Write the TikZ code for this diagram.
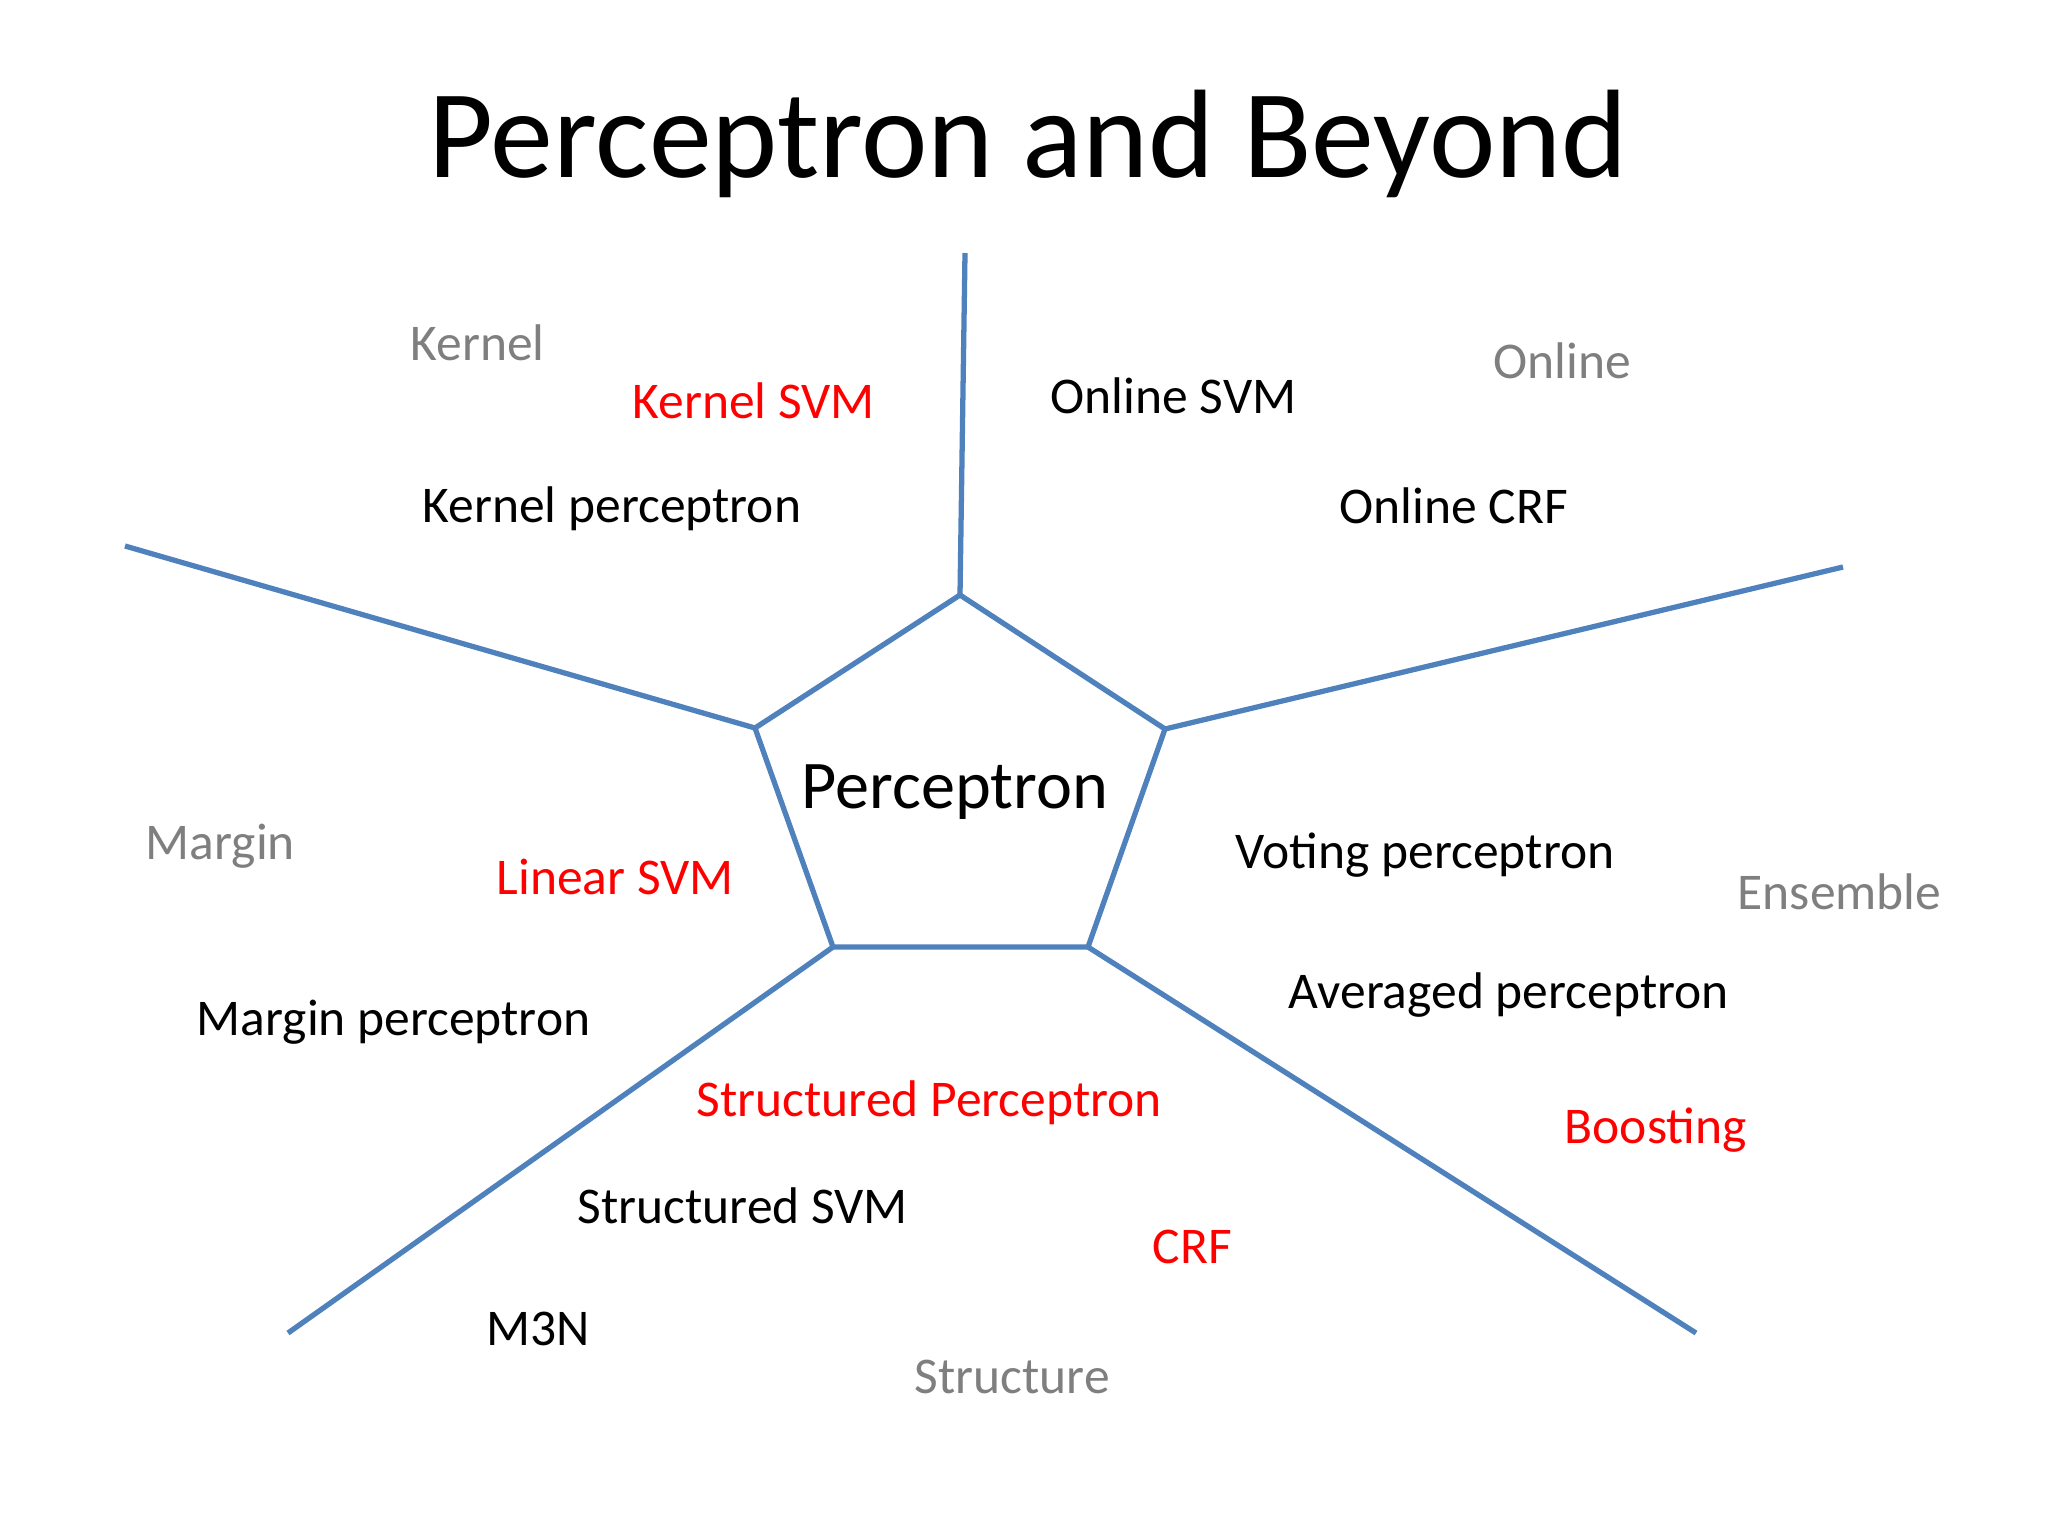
\documentclass[tikz,border=0pt]{standalone}
\usepackage{fontspec}
\setmainfont{Carlito}
\usepackage{xcolor}
\definecolor{lineblue}{HTML}{4F81BD}
\definecolor{labelgray}{HTML}{7F7F7F}

\begin{document}
\begin{tikzpicture}[x=0.01cm, y=-0.01cm]
\tikzset{
    mytitle/.style={inner sep=0pt, font=\fontsize{35.8}{40}\selectfont},
    mycenter/.style={inner sep=0pt, anchor=base west, font=\fontsize{19.4}{23}\selectfont},
    mylabel/.style={inner sep=0pt, anchor=base west, font=\fontsize{14.65}{17}\selectfont},
    myred/.style={mylabel, text=red},
    mygray/.style={mylabel, text=labelgray},
    myline/.style={draw=lineblue, line width=1.5pt, line join=miter}
}
\useasboundingbox (0,0) rectangle (2048,1536);

\node[mytitle, anchor=base] (title) at (1028,177) {Perceptron and Beyond};

% pentagon corners
\coordinate (ctop) at (960,595);
\coordinate (cur)  at (1165,729);
\coordinate (clr)  at (1088,947);
\coordinate (cll)  at (833,947);
\coordinate (cul)  at (755,728);
% outer ends of the spokes
\coordinate (etop) at (965,253);
\coordinate (eur)  at (1843,567);
\coordinate (elr)  at (1696,1333);
\coordinate (ell)  at (288,1333);
\coordinate (eul)  at (125,546);

\draw[myline] (ctop) -- (cur) -- (clr) -- (cll) -- (cul) -- cycle;
\foreach \c/\e in {ctop/etop, cur/eur, clr/elr, cll/ell, cul/eul}
    \draw[myline] (\c) -- (\e);

\node[mycenter] (perceptron) at (801,808) {Perceptron};

% kernel
\node[mygray] (kernel) at (410,360) {Kernel};
\node[myred] (kernelsvm) at (632,418) {Kernel SVM};
\node[mylabel] (kernelperc) at (422,522) {Kernel perceptron};
% online
\node[mygray] (online) at (1493,378) {Online};
\node[mylabel] (onlinesvm) at (1050,413) {Online SVM};
\node[mylabel] (onlinecrf) at (1339,523) {Online CRF};
% margin
\node[mygray] (margin) at (145,859) {Margin};
\node[myred] (linearsvm) at (496,894) {Linear SVM};
\node[mylabel] (marginperc) at (196,1035) {Margin perceptron};
% ensemble
\node[mylabel] (votingperc) at (1235,868) {Voting perceptron};
\node[mygray] (ensemble) at (1737,909) {Ensemble};
\node[mylabel] (avgperc) at (1288,1008) {Averaged perceptron};
\node[myred] (boosting) at (1564,1143) {Boosting};
% structure
\node[myred] (structperc) at (696,1116) {Structured Perceptron};
\node[mylabel] (structsvm) at (577,1223) {Structured SVM};
\node[myred] (crf) at (1152,1263) {CRF};
\node[mylabel] (mthreen) at (486,1345) {M3N};
\node[mygray] (structure) at (914,1393) {Structure};

\end{tikzpicture}
\end{document}
